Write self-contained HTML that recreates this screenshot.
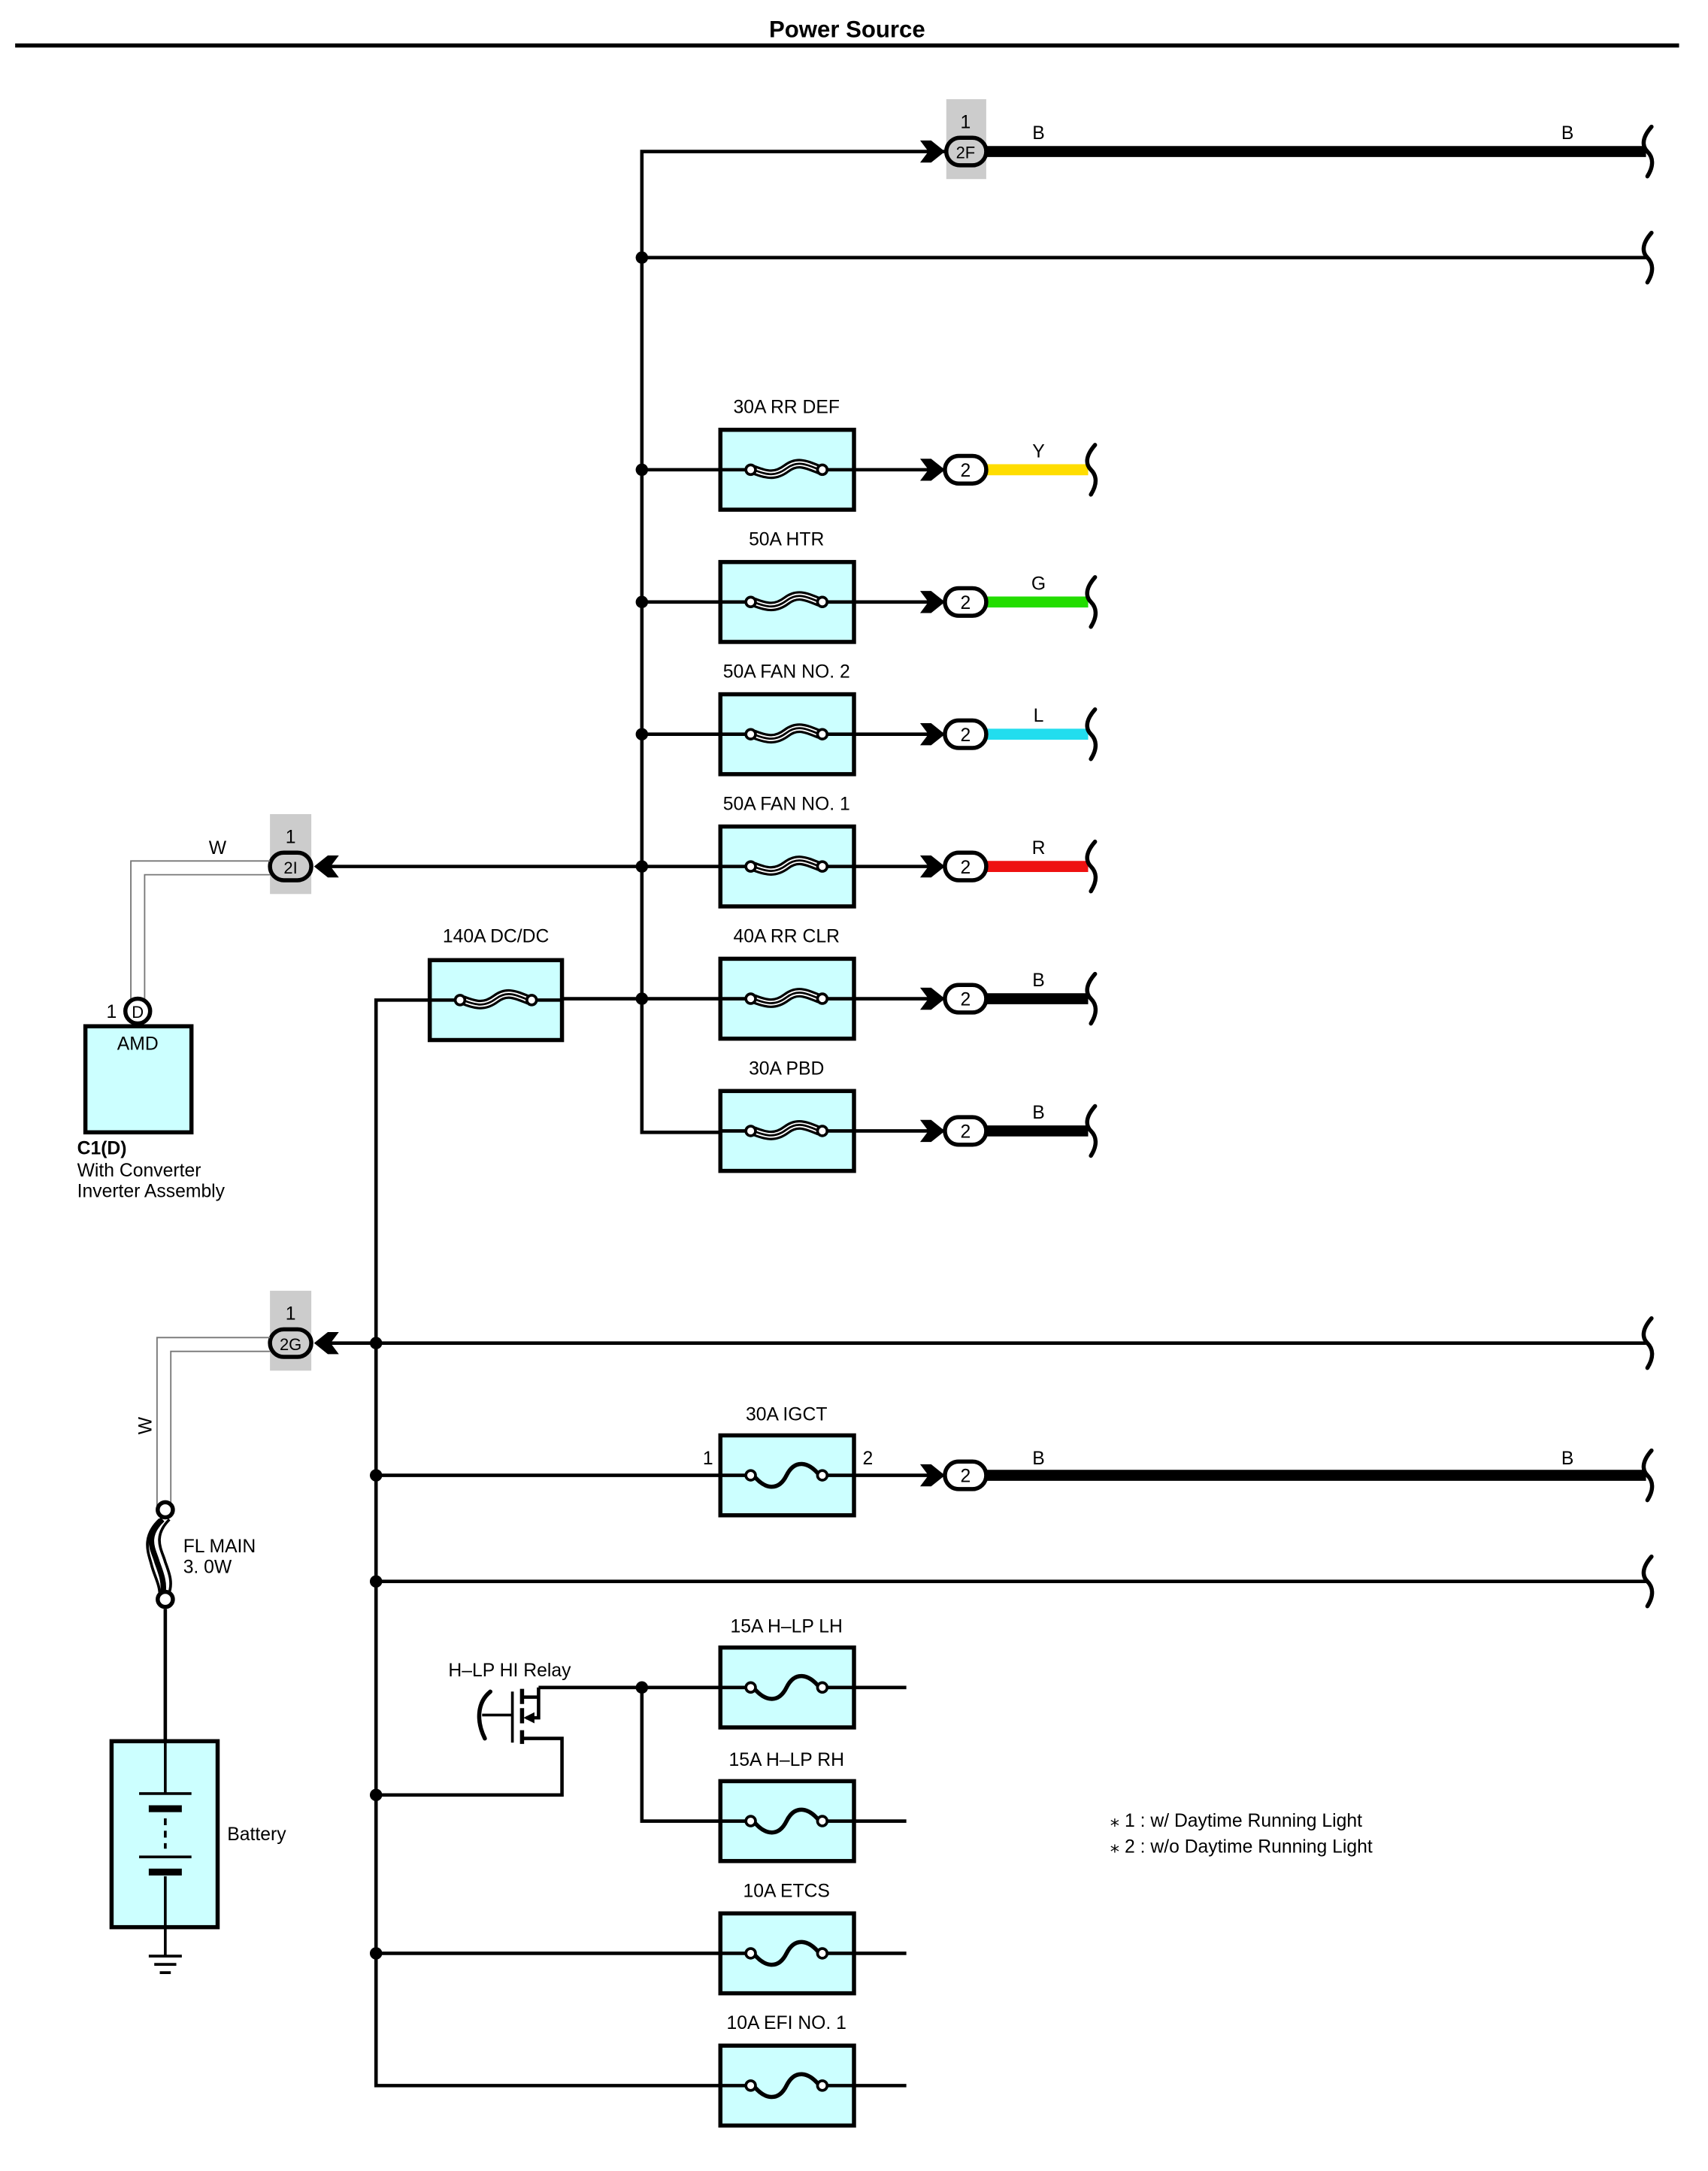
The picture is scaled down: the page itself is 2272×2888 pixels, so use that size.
<!DOCTYPE html>
<html><head><meta charset="utf-8"><style>
html,body{margin:0;padding:0;background:#fff}
svg{display:block}
text{font-family:"Liberation Sans",sans-serif;font-size:13.5px;fill:#000}
</style></head><body>
<svg width="2272" height="2888" viewBox="0 0 1240 1576" preserveAspectRatio="none" xmlns="http://www.w3.org/2000/svg">
<defs>
<g id="bf">
<path d="M-24 0 C-14 4,-8 5,0 -1 C8 -7,14 -4,24 0" stroke="#000" stroke-width="7" fill="none"/>
<path d="M-24 0 C-14 4,-8 5,0 -1 C8 -7,14 -4,24 0" stroke="#fff" stroke-width="3.5" fill="none"/>
<path d="M-24 0 C-14 4,-8 5,0 -1 C8 -7,14 -4,24 0" stroke="#000" stroke-width="1.5" fill="none"/>
<circle cx="-26" cy="0" r="3.5" fill="#fff" stroke="#000" stroke-width="2"/>
<circle cx="26" cy="0" r="3.5" fill="#fff" stroke="#000" stroke-width="2"/>
</g>
<g id="sf">
<path d="M-24 0 C-16 10,-6 12,0 0 C6 -12,16 -10,24 0" stroke="#000" stroke-width="3" fill="none"/>
<circle cx="-26" cy="0" r="3.5" fill="#fff" stroke="#000" stroke-width="2"/>
<circle cx="26" cy="0" r="3.5" fill="#fff" stroke="#000" stroke-width="2"/>
</g>
<path id="arr" d="M-18 -8 L-10 -8 L0 0 L-10 8 L-18 8 L-12 0 Z" fill="#000"/>
<path id="arl" d="M18 -8 L10 -8 L0 0 L10 8 L18 8 L12 0 Z" fill="#000"/>
<path id="sq" d="M2 -18 C-5 -10,-5 -4,-1 0 C3 4,4 10,-1 18" stroke="#000" stroke-width="3" fill="none" stroke-linecap="round"/>
</defs>

<text x="615" y="27" text-anchor="middle" style="font-weight:bold;font-size:17px">Power Source</text>
<line x1="11" y1="33" x2="1219" y2="33" stroke="#000" stroke-width="3"/>

<g stroke="#000" stroke-width="2.5" fill="none">
<path d="M686 110 H466 V822 H523"/>
<path d="M466 187 H1195"/>
<path d="M466 341 H523 M620 341 H686"/>
<path d="M466 437 H523 M620 437 H686"/>
<path d="M466 533 H523 M620 533 H686"/>
<path d="M230 629 H523 M620 629 H686"/>
<path d="M408 725 H523 M620 725 H686"/>
<path d="M620 821 H686"/>
<path d="M312 726 H273 V1514 H523"/>
<path d="M230 975 H1195"/>
<path d="M273 1071 H523 M620 1071 H686"/>
<path d="M273 1148 H1195"/>
<path d="M391 1225 H523 M620 1225 H658"/>
<path d="M466 1225 V1322 H523 M620 1322 H658"/>
<path d="M273 1303 H408 V1262 H380"/>
<path d="M273 1418 H523 M620 1418 H658"/>
<path d="M620 1514 H658"/>
<path d="M120 1168 V1264"/>
</g>
<g fill="#000">
<circle cx="466" cy="187" r="4.5"/><circle cx="466" cy="341" r="4.5"/><circle cx="466" cy="437" r="4.5"/>
<circle cx="466" cy="533" r="4.5"/><circle cx="466" cy="629" r="4.5"/><circle cx="466" cy="725" r="4.5"/>
<circle cx="273" cy="975" r="4.5"/><circle cx="273" cy="1071" r="4.5"/><circle cx="273" cy="1148" r="4.5"/>
<circle cx="273" cy="1303" r="4.5"/><circle cx="273" cy="1418" r="4.5"/><circle cx="466" cy="1225" r="4.5"/>
</g>

<g stroke-width="8" fill="none">
<path d="M716 110 H1195" stroke="#000"/>
<path d="M716 341 H790" stroke="#ffdd00"/>
<path d="M716 437 H790" stroke="#22dd00"/>
<path d="M716 533 H790" stroke="#22ddee"/>
<path d="M716 629 H790" stroke="#ee1111"/>
<path d="M716 725 H790" stroke="#000"/>
<path d="M716 821 H790" stroke="#000"/>
<path d="M716 1071 H1195" stroke="#000"/>
</g>
<use href="#sq" x="1197" y="110"/><use href="#sq" x="1197" y="187"/>
<use href="#sq" x="793" y="341"/><use href="#sq" x="793" y="437"/><use href="#sq" x="793" y="533"/>
<use href="#sq" x="793" y="629"/><use href="#sq" x="793" y="725"/><use href="#sq" x="793" y="821"/>
<use href="#sq" x="1197" y="975"/><use href="#sq" x="1197" y="1071"/><use href="#sq" x="1197" y="1148"/>

<g fill="#ccffff" stroke="#000" stroke-width="3">
<rect x="523" y="312" width="97" height="58"/>
<rect x="523" y="408" width="97" height="58"/>
<rect x="523" y="504" width="97" height="58"/>
<rect x="523" y="600" width="97" height="58"/>
<rect x="523" y="696" width="97" height="58"/>
<rect x="523" y="792" width="97" height="58"/>
<rect x="312" y="697" width="96" height="58"/>
<rect x="523" y="1042" width="97" height="58"/>
<rect x="523" y="1196" width="97" height="58"/>
<rect x="523" y="1293" width="97" height="58"/>
<rect x="523" y="1389" width="97" height="58"/>
<rect x="523" y="1485" width="97" height="58"/>
</g>
<g stroke="#000" stroke-width="2.5">
<path d="M523 341 H545 M597 341 H620 M523 437 H545 M597 437 H620 M523 533 H545 M597 533 H620 M523 629 H545 M597 629 H620 M523 725 H545 M597 725 H620 M523 821 H545 M597 821 H620 M312 726 H334 M386 726 H408 M523 1071 H545 M597 1071 H620 M523 1225 H545 M597 1225 H620 M523 1322 H545 M597 1322 H620 M523 1418 H545 M597 1418 H620 M523 1514 H545 M597 1514 H620"/>
</g>
<use href="#bf" x="571" y="341"/><use href="#bf" x="571" y="437"/><use href="#bf" x="571" y="533"/>
<use href="#bf" x="571" y="629"/><use href="#bf" x="571" y="725"/><use href="#bf" x="571" y="821"/>
<use href="#bf" x="360" y="726"/>
<use href="#sf" x="571" y="1071"/><use href="#sf" x="571" y="1225"/><use href="#sf" x="571" y="1322"/>
<use href="#sf" x="571" y="1418"/><use href="#sf" x="571" y="1514"/>

<text x="571" y="300" text-anchor="middle">30A RR DEF</text>
<text x="571" y="396" text-anchor="middle">50A HTR</text>
<text x="571" y="492" text-anchor="middle">50A FAN NO. 2</text>
<text x="571" y="588" text-anchor="middle">50A FAN NO. 1</text>
<text x="571" y="684" text-anchor="middle">40A RR CLR</text>
<text x="571" y="780" text-anchor="middle">30A PBD</text>
<text x="360" y="684" text-anchor="middle">140A DC/DC</text>
<text x="571" y="1031" text-anchor="middle">30A IGCT</text>
<text x="514" y="1063" text-anchor="middle">1</text>
<text x="630" y="1063" text-anchor="middle">2</text>
<text x="571" y="1185" text-anchor="middle">15A H–LP LH</text>
<text x="571" y="1282" text-anchor="middle">15A H–LP RH</text>
<text x="571" y="1377" text-anchor="middle">10A ETCS</text>
<text x="571" y="1473" text-anchor="middle">10A EFI NO. 1</text>

<g fill="#fff" stroke="#000" stroke-width="3">
<rect x="686" y="331" width="30" height="20" rx="10"/>
<rect x="686" y="427" width="30" height="20" rx="10"/>
<rect x="686" y="523" width="30" height="20" rx="10"/>
<rect x="686" y="619" width="30" height="20" rx="10"/>
<rect x="686" y="715" width="30" height="20" rx="10"/>
<rect x="686" y="811" width="30" height="20" rx="10"/>
<rect x="686" y="1061" width="30" height="20" rx="10"/>
</g>
<use href="#arr" x="686" y="341"/><use href="#arr" x="686" y="437"/><use href="#arr" x="686" y="533"/>
<use href="#arr" x="686" y="629"/><use href="#arr" x="686" y="725"/><use href="#arr" x="686" y="821"/>
<use href="#arr" x="686" y="1071"/><use href="#arr" x="686" y="110"/>
<g text-anchor="middle">
<text x="701" y="346">2</text><text x="701" y="442">2</text><text x="701" y="538">2</text>
<text x="701" y="634">2</text><text x="701" y="730">2</text><text x="701" y="826">2</text>
<text x="701" y="1076">2</text>
<text x="754" y="101">B</text><text x="1138" y="101">B</text>
<text x="754" y="332">Y</text><text x="754" y="428">G</text><text x="754" y="524">L</text>
<text x="754" y="620">R</text><text x="754" y="716">B</text><text x="754" y="812">B</text>
<text x="754" y="1063">B</text><text x="1138" y="1063">B</text>
</g>

<rect x="687" y="72" width="29" height="58" fill="#cccccc"/>
<rect x="687" y="100" width="29" height="20" rx="10" fill="#ccc" stroke="#000" stroke-width="3"/>
<text x="701" y="93" text-anchor="middle">1</text>
<text x="701" y="115" text-anchor="middle" style="font-size:12px">2F</text>

<rect x="196" y="591" width="30" height="58" fill="#cccccc"/>
<rect x="196" y="619" width="30" height="20" rx="10" fill="#ccc" stroke="#000" stroke-width="3"/>
<use href="#arl" x="228" y="629"/>
<text x="211" y="612" text-anchor="middle">1</text>
<text x="211" y="634" text-anchor="middle" style="font-size:12px">2I</text>
<path d="M196 625 H95 V727 M196 635 H105 V727" stroke="#777" stroke-width="1" fill="none"/>
<text x="158" y="620" text-anchor="middle">W</text>

<rect x="62" y="745" width="77" height="77" fill="#ccffff" stroke="#000" stroke-width="3"/>
<circle cx="100" cy="734" r="9" fill="#fff" stroke="#000" stroke-width="3"/>
<text x="100" y="739" text-anchor="middle" style="font-size:12px">D</text>
<text x="81" y="739" text-anchor="middle">1</text>
<text x="100" y="762" text-anchor="middle">AMD</text>
<text x="56" y="838" style="font-weight:bold">C1(D)</text>
<text x="56" y="854">With Converter</text>
<text x="56" y="869">Inverter Assembly</text>

<rect x="196" y="937" width="30" height="58" fill="#cccccc"/>
<rect x="196" y="965" width="30" height="20" rx="10" fill="#ccc" stroke="#000" stroke-width="3"/>
<use href="#arl" x="228" y="975"/>
<text x="211" y="958" text-anchor="middle">1</text>
<text x="211" y="980" text-anchor="middle" style="font-size:12px">2G</text>
<path d="M196 971 H114 V1093 M196 981 H124 V1093" stroke="#777" stroke-width="1" fill="none"/>
<text x="110" y="1035" text-anchor="middle" transform="rotate(-90 110 1035)">W</text>

<path d="M118 1103 C104 1116,112 1126,114 1134 C117 1142,120 1150,118 1158" stroke="#000" stroke-width="4" fill="none"/>
<path d="M123 1103 C110 1116,118 1126,120 1134 C123 1142,126 1150,122 1158" stroke="#000" stroke-width="2" fill="none"/>
<path d="M116 1103 C102 1116,108 1128,110 1136 C112 1144,116 1150,116 1158" stroke="#000" stroke-width="2" fill="none"/>
<circle cx="120" cy="1096" r="5.5" fill="#fff" stroke="#000" stroke-width="3"/>
<circle cx="120" cy="1161" r="5.5" fill="#fff" stroke="#000" stroke-width="3"/>
<text x="133" y="1127">FL MAIN</text>
<text x="133" y="1142">3. 0W</text>

<rect x="81" y="1264" width="77" height="135" fill="#ccffff" stroke="#000" stroke-width="3"/>
<g stroke="#000" fill="none">
<path d="M120 1264 V1302 M101 1302 H139" stroke-width="2"/>
<path d="M108 1313 H132" stroke-width="5"/>
<path d="M120 1320 V1342" stroke-width="2" stroke-dasharray="5 4"/>
<path d="M101 1348 H139" stroke-width="2"/>
<path d="M108 1359 H132" stroke-width="5"/>
<path d="M120 1362 V1420" stroke-width="2"/>
<path d="M108 1420 H132 M112 1426 H128 M116 1432 H124" stroke-width="2"/>
</g>
<text x="165" y="1336">Battery</text>

<text x="370" y="1217" text-anchor="middle">H–LP HI Relay</text>
<g stroke="#000" fill="none">
<path d="M356 1228 C346 1236,346 1250,352 1262" stroke-width="3" stroke-linecap="round"/>
<path d="M350 1245 H372" stroke-width="2"/>
<path d="M372 1228 V1265" stroke-width="2"/>
<path d="M379 1226 V1237 M379 1240 V1251 M379 1256 V1266" stroke-width="3"/>
<path d="M379 1232 H391 V1247 H382 M391 1225 V1232" stroke-width="2.5"/>
</g>
<path d="M380 1247 L388 1243 L388 1251 Z" fill="#000"/>

<text x="806" y="1326">⁎ 1 : w/ Daytime Running Light</text>
<text x="806" y="1345">⁎ 2 : w/o Daytime Running Light</text>
</svg>
</body></html>
